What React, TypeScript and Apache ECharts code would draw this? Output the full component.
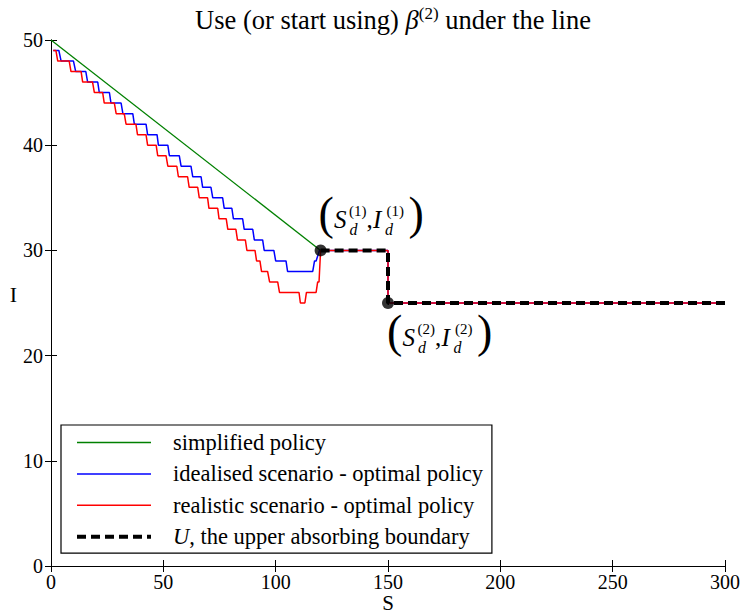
import React, { useEffect, useRef } from 'react';
import * as echarts from 'echarts';

const FONT = 'Liberation Serif';

// Tick values
const xTicks = { min: 0, max: 300, interval: 50 };
const yTicks = { min: 0, max: 50, interval: 10 };

// Simplified policy (straight line)
const greenS = [0, 120];
const greenI = [50, 30];

// Idealised scenario - optimal policy: staircase levels with the S range of each flat part
const blueLevels = [49, 48, 47, 46, 45, 44, 43, 42, 41, 40, 39, 38, 37, 36, 35, 34, 33, 32, 31, 30, 29, 28, 29, 30];
const blueFrom = [1, 4.5, 11, 16.3, 21.5, 26.7, 32, 37.1, 43, 47.8, 52.7, 57.9, 63.1, 67.5, 72, 77.1, 81.2, 86, 90.5, 94.9, 100, 105.3, 117.3, 119.5];
const blueTo = [3.5, 10, 15.5, 20.8, 26, 31.2, 36.4, 42.3, 47.2, 52, 57.1, 62.3, 66.8, 71.2, 76.4, 80.5, 85.3, 89.8, 94.2, 99.2, 104.6, 116.5, 118, 120];

// Realistic scenario - optimal policy
const redLevels = [49, 48, 47, 46, 45, 44, 43, 42, 41, 40, 39, 38, 37, 36, 35, 34, 33, 32, 31, 30, 29, 28, 27, 26, 25, 26, 27];
const redFrom = [1, 3, 8.9, 14.1, 19.3, 23.7, 29, 33.4, 38.5, 43, 47.5, 52, 56.7, 61.5, 66, 70.3, 74.8, 78.7, 83, 87.2, 91.5, 93.7, 97.3, 101.7, 111, 113.7, 118.7];
const redTo = [2.2, 8.1, 13.4, 18.5, 23, 28.2, 32.6, 37.8, 42.3, 46.8, 51.2, 56, 60.8, 65.3, 69.7, 74.2, 78, 82.3, 86.5, 90.8, 93, 96.4, 100.9, 110.4, 113, 118, 119.3];

// U, the upper absorbing boundary
const boundaryS = [120, 150, 150, 300];
const boundaryI = [30, 30, 25, 25];

// Decision points (S_d, I_d)
const decisionS = [120, 150];
const decisionI = [30, 25];

const seriesNames = [
  'simplified policy',
  'idealised scenario - optimal policy',
  'realistic scenario - optimal policy',
  'U, the upper absorbing boundary',
];

function stairs(levels: number[], from: number[], to: number[]) {
  const pts: number[][] = [];
  levels.forEach((l, i) => {
    pts.push([from[i], l]);
    pts.push([to[i], l]);
  });
  return pts;
}
const zip = (a: number[], b: number[]) => a.map((v, i) => [v, b[i]]);

function annot(cx: number, cy: number, k: number) {
  const t = (text: string, x: number, y: number, size: number, italic = false) => ({
    type: 'text',
    x,
    y,
    style: {
      text,
      fill: '#000',
      fontFamily: FONT,
      fontSize: size,
      fontStyle: italic ? 'italic' : 'normal',
      align: 'left',
      verticalAlign: 'middle',
    },
  });
  const L = cx - 49;
  return {
    type: 'group',
    children: [
      t('(', L - 2, cy - 5, 46),
      t('S', L + 13.5, cy + 1, 25, true),
      t(`(${k})`, L + 28.5, cy - 7, 15),
      t('d', L + 29, cy + 11, 16, true),
      t(',', L + 46, cy + 1, 25),
      t('I', L + 52.5, cy + 1, 25, true),
      t(`(${k})`, L + 66, cy - 7, 15),
      t('d', L + 64.5, cy + 11, 16, true),
      t(')', L + 88, cy - 5, 46),
    ],
  };
}

export default function App() {
  const ref = useRef<HTMLDivElement>(null);
  useEffect(() => {
    if (!ref.current) return;
    const chart = echarts.init(ref.current, null, { renderer: 'svg' });
    const axisCommon = {
      type: 'value',
      splitLine: { show: false },
      axisLine: { show: true, lineStyle: { color: '#000', width: 1 } },
      axisTick: { show: true, inside: true, length: 6, lineStyle: { color: '#000', width: 1 } },
    };
    const tickLabel = { color: '#000', fontFamily: FONT, fontSize: 20 };
    const option: any = {
      animation: false,
      backgroundColor: '#fff',
      textStyle: { fontFamily: FONT },
      title: {
        text: 'Use (or start using) {b|β}{s|(2)} under the line',
        left: 388,
        textAlign: 'center',
        top: 0,
        textStyle: {
          color: '#000',
          fontFamily: FONT,
          fontSize: 26.5,
          fontWeight: 'normal',
          rich: {
            b: { fontFamily: FONT, fontSize: 26.5, fontStyle: 'italic', color: '#000' },
            s: { fontFamily: FONT, fontSize: 17, color: '#000', padding: [0, 0, 13, 0] },
          },
        },
      },
      grid: { left: 51, right: 17, top: 40, bottom: 48, containLabel: false, outerBoundsMode: 'none' },
      xAxis: [
        {
          ...axisCommon,
          ...xTicks,
          position: 'bottom',
          name: 'S',
          nameLocation: 'middle',
          nameGap: 26.5,
          nameMoveOverlap: false,
          nameTextStyle: { color: '#000', fontFamily: FONT, fontSize: 21 },
          axisLabel: { ...tickLabel, margin: 6 },
        },
        { ...axisCommon, ...xTicks, position: 'top', axisLabel: { show: false } },
      ],
      yAxis: [
        {
          ...axisCommon,
          ...yTicks,
          position: 'left',
          name: 'I',
          nameLocation: 'middle',
          nameRotate: 0,
          nameGap: 34,
          nameMoveOverlap: false,
          nameTextStyle: {
            color: '#000',
            fontFamily: FONT,
            fontSize: 22,
            lineHeight: 18,
            verticalAlign: 'bottom',
          },
          axisLabel: { ...tickLabel, margin: 8 },
        },
        { ...axisCommon, ...yTicks, position: 'right', axisLabel: { show: false } },
      ],
      legend: {
        orient: 'vertical',
        left: 61,
        top: 425,
        padding: [6, 9, 5, 14],
        itemWidth: 74,
        itemHeight: 12,
        itemGap: 8.4,
        borderColor: '#000',
        borderWidth: 1.2,
        borderRadius: 0,
        backgroundColor: '#fff',
        itemStyle: { opacity: 0 },
        textStyle: {
          color: '#000',
          fontFamily: FONT,
          fontSize: 22.5,
          lineHeight: 22,
          padding: [0, 0, 0, 17],
          rich: { i: { fontStyle: 'italic', fontFamily: FONT, fontSize: 22.5, color: '#000' } },
        },
        formatter: (name: string) =>
          name.startsWith('U,') ? '{i|U}, the upper absorbing boundary' : name,
        data: [
          { name: seriesNames[0], lineStyle: { width: 1.3 }, itemStyle: { opacity: 0 } },
          { name: seriesNames[1], lineStyle: { width: 1.5 }, itemStyle: { opacity: 0 } },
          { name: seriesNames[2], lineStyle: { width: 1.5 }, itemStyle: { opacity: 0 } },
          { name: seriesNames[3], lineStyle: { width: 4, type: [9, 5] }, itemStyle: { opacity: 0 } },
        ],
      },
      series: [
        {
          name: seriesNames[0],
          type: 'line',
          data: zip(greenS, greenI),
          symbol: 'none',
          lineStyle: { color: '#008000', width: 1.3 },
          itemStyle: { color: '#008000' },
          z: 2,
        },
        {
          name: seriesNames[1],
          type: 'line',
          data: stairs(blueLevels, blueFrom, blueTo).concat(zip(boundaryS, boundaryI)),
          symbol: 'none',
          lineStyle: { color: '#0000ff', width: 1.5 },
          itemStyle: { color: '#0000ff' },
          z: 3,
        },
        {
          name: seriesNames[2],
          type: 'line',
          data: stairs(redLevels, redFrom, redTo).concat(zip(boundaryS, boundaryI)),
          symbol: 'none',
          lineStyle: { color: '#ff0000', width: 1.5 },
          itemStyle: { color: '#ff0000' },
          z: 4,
        },
        {
          name: seriesNames[3],
          type: 'line',
          data: zip(boundaryS, boundaryI),
          symbol: 'none',
          lineStyle: { color: '#000', width: 4, type: [9, 5], cap: 'butt' },
          itemStyle: { color: '#000' },
          z: 5,
        },
        {
          name: 'decision points',
          type: 'scatter',
          data: zip(decisionS, decisionI),
          symbol: 'circle',
          symbolSize: 12,
          itemStyle: { color: '#000' },
          z: 6,
        },
      ],
    };
    chart.setOption(option);
    const p1 = chart.convertToPixel({ xAxisIndex: 0, yAxisIndex: 0 }, [decisionS[0], decisionI[0]]) as number[];
    const p2 = chart.convertToPixel({ xAxisIndex: 0, yAxisIndex: 0 }, [decisionS[1], decisionI[1]]) as number[];
    chart.setOption({
      graphic: [annot(p1[0] + 49, p1[1] - 32, 1), annot(p2[0] + 50, p2[1] + 33, 2)],
    });
    return () => chart.dispose();
  }, []);
  return (
    <div
      ref={ref}
      style={{ position: 'fixed', left: 0, top: 0, width: 742, height: 614, background: '#fff' }}
    />
  );
}
